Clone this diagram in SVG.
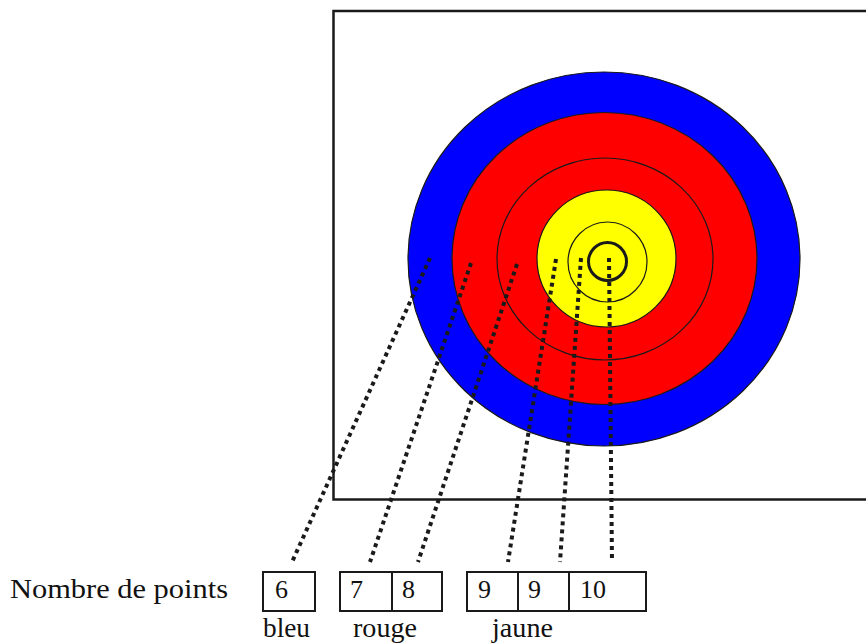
<svg xmlns="http://www.w3.org/2000/svg" width="866" height="643" viewBox="0 0 866 643">
<style>
.ring{stroke:#1a1a1a;stroke-width:1.2}
.dot{fill:none;stroke:#1a1a1a;stroke-width:4;stroke-dasharray:4 4}
.box{fill:#fff;stroke:#1a1a1a;stroke-width:2}
text{font-family:'Liberation Serif','DejaVu Serif',serif;fill:#111}
</style>
<rect width="866" height="643" fill="#fff"/>
<g id="frame"><rect x="333.5" y="11" width="600" height="488.5" fill="none" stroke="#1a1a1a" stroke-width="2.5"/></g>
<g id="target">
<ellipse class="ring" cx="604" cy="259" rx="196" ry="187" fill="#0000ff"/>
<ellipse class="ring" cx="604.5" cy="258.5" rx="152.5" ry="146" fill="#ff0000"/>
<ellipse class="ring" cx="605" cy="259" rx="108" ry="101" fill="none"/>
<ellipse class="ring" cx="606.5" cy="258.5" rx="69.5" ry="68.5" fill="#ffff00"/>
<ellipse class="ring" cx="607.5" cy="262" rx="39.5" ry="40" fill="none"/>
<ellipse cx="607.5" cy="261.5" rx="19" ry="19" fill="none" stroke="#1a1a1a" stroke-width="3"/>
</g>
<g id="connectors">
<line class="dot" x1="430" y1="258" x2="292" y2="562"/>
<line class="dot" x1="471" y1="263" x2="370" y2="562"/>
<line class="dot" x1="517" y1="264" x2="418" y2="562"/>
<line class="dot" x1="556" y1="259" x2="508" y2="562"/>
<line class="dot" x1="581" y1="258" x2="560" y2="562"/>
<line class="dot" x1="609" y1="258" x2="612" y2="562"/>
</g>
<g id="label"><text x="10" y="598" font-size="28" textLength="218" lengthAdjust="spacingAndGlyphs">Nombre de points</text></g>
<g id="bleu">
<rect class="box" x="263" y="572" width="52" height="39"/>
<text x="275" y="598" font-size="26">6</text>
<text x="263" y="637" font-size="28" textLength="47" lengthAdjust="spacingAndGlyphs">bleu</text>
</g>
<g id="rouge">
<rect class="box" x="340" y="572" width="102" height="39"/>
<line x1="392" y1="572" x2="392" y2="611" stroke="#1a1a1a" stroke-width="2"/>
<text x="350" y="598" font-size="26">7</text>
<text x="402" y="598" font-size="26">8</text>
<text x="353" y="637" font-size="28" textLength="64" lengthAdjust="spacingAndGlyphs">rouge</text>
</g>
<g id="jaune">
<rect class="box" x="467" y="572" width="179" height="39"/>
<line x1="518" y1="572" x2="518" y2="611" stroke="#1a1a1a" stroke-width="2"/>
<line x1="569" y1="572" x2="569" y2="611" stroke="#1a1a1a" stroke-width="2"/>
<text x="478" y="598" font-size="26">9</text>
<text x="528" y="598" font-size="26">9</text>
<text x="580" y="598" font-size="26">10</text>
<text x="492" y="637" font-size="28" textLength="61" lengthAdjust="spacingAndGlyphs">jaune</text>
</g>
</svg>
